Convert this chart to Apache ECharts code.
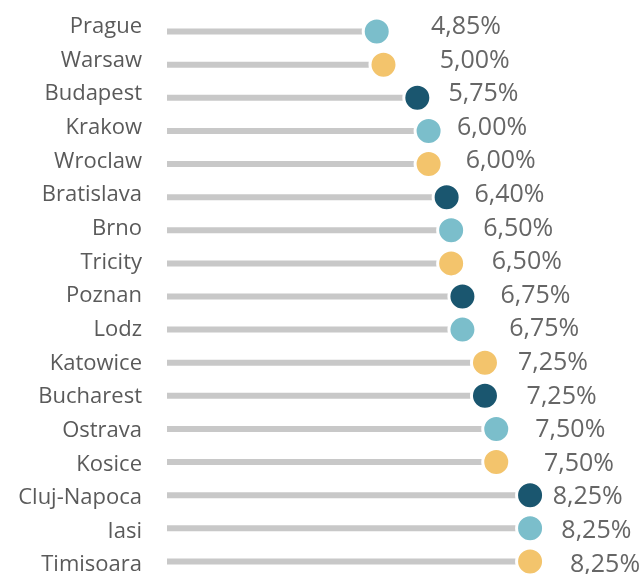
<!DOCTYPE html>
<html>
<head>
<meta charset="utf-8">
<script src="https://cdn.jsdelivr.net/npm/echarts@6/dist/echarts.min.js"></script>
<style>
html, body { margin: 0; padding: 0; background: #fff; }
#main { width: 643px; height: 574px; }
</style>
</head>
<body>
<div id="main"></div>
<script>
let cities = ['Prague', 'Warsaw', 'Budapest', 'Krakow', 'Wroclaw', 'Bratislava', 'Brno', 'Tricity', 'Poznan',
  'Lodz', 'Katowice', 'Bucharest', 'Ostrava', 'Kosice', 'Cluj-Napoca', 'Iasi', 'Timisoara'];
let rates = [4.85, 5.00, 5.75, 6.00, 6.00, 6.40, 6.50, 6.50, 6.75, 6.75, 7.25, 7.25, 7.50, 7.50, 8.25, 8.25, 8.25];
let dotColors = ['#7bbecb', '#f3c46c', '#1a566f'];

let chart = echarts.init(document.getElementById('main'));
let font = "'Open Sans', 'Noto Sans', sans-serif";

function fmt(v) {
  return v.toFixed(2).replace('.', ',') + '%';
}

let dots = rates.map((v, i) => ({
  value: [v, i],
  itemStyle: { color: dotColors[i % 3] }
}));

let option = {
  animation: false,
  grid: [
    { left: 167, top: 15, width: 442, height: 563, outerBoundsMode: 'none' },
    // text rows for city names (slightly different spacing than the bars)
    { left: 167, top: 10, width: 442, height: 572, outerBoundsMode: 'none' }
  ],
  xAxis: [
    { type: 'value', min: 0.2, max: 10, show: false, gridIndex: 0 },
    { type: 'value', min: 0, max: 10, show: false, gridIndex: 1 }
  ],
  yAxis: [
    {
      type: 'category', data: cities, inverse: true, gridIndex: 0,
      axisLine: { show: false }, axisTick: { show: false }, axisLabel: { show: false },
      splitLine: { show: false }
    },
    {
      type: 'category', data: cities, inverse: true, gridIndex: 1,
      axisLine: { show: false }, axisTick: { show: false }, splitLine: { show: false },
      axisLabel: { margin: 25, color: '#5a5a5a', fontSize: 22, fontFamily: font }
    }
  ],
  series: [
    {
      type: 'bar',
      data: rates,
      barWidth: 6,
      clip: true,
      itemStyle: { color: '#c8c8c8' },
      silent: true
    },
    {
      type: 'scatter',
      data: dots,
      symbolSize: 27,
      itemStyle: { borderColor: '#fff', borderWidth: 3, opacity: 1 },
      label: {
        show: true,
        position: 'inside',
        align: 'left',
        verticalAlign: 'middle',
        color: '#666',
        fontSize: 25,
        fontFamily: font,
        formatter: p => fmt(p.value[0])
      }
    }
  ]
};
chart.setOption(option);

// value labels sit on their own slanted column, independent of the dots
let labelData = dots.map((d, i) => {
  let c = chart.convertToPixel({ seriesIndex: 1 }, d.value);
  let x = 431 + 8.69 * i;
  let y = 26.8 + 33.6 * i;
  return {
    value: d.value,
    itemStyle: d.itemStyle,
    label: { offset: [x - c[0], y - c[1]] }
  };
});
chart.setOption({ series: [{}, { data: labelData }] });
</script>
</body>
</html>
